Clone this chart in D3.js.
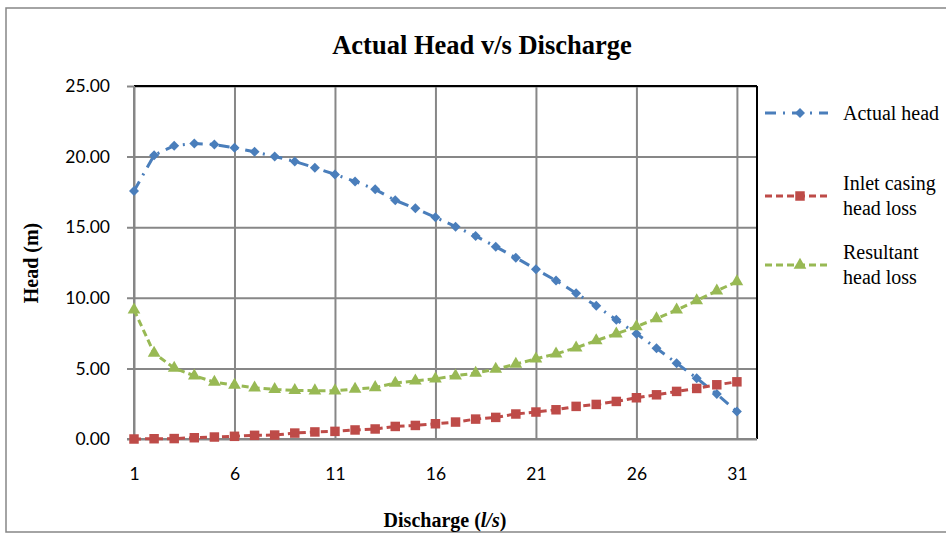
<!DOCTYPE html>
<html><head><meta charset="utf-8">
<script src="https://cdn.jsdelivr.net/npm/d3@7"></script>
<style>body{margin:0;background:#fff}svg{display:block}</style>
</head><body>
<svg id="c" width="946" height="534"></svg>
<script>
const discharge = d3.range(1, 32); // 1..31 categories
const xTickLabels = [1, 6, 11, 16, 21, 26, 31];
const yTickLabels = [0, 5, 10, 15, 20, 25];
const actualHead = [17.56,20.10,20.77,20.93,20.86,20.62,20.34,20.01,19.66,19.21,18.74,18.24,17.68,16.90,16.34,15.70,15.04,14.38,13.62,12.84,12.02,11.22,10.32,9.43,8.44,7.45,6.43,5.37,4.31,3.18,1.95];
const inletLoss = [0.00,0.02,0.03,0.09,0.14,0.19,0.26,0.28,0.42,0.50,0.54,0.64,0.71,0.89,0.96,1.08,1.20,1.41,1.53,1.77,1.91,2.07,2.31,2.45,2.66,2.92,3.13,3.37,3.58,3.84,4.05];
const resultantLoss = [9.15,6.08,5.02,4.48,4.03,3.82,3.63,3.51,3.44,3.42,3.42,3.54,3.65,3.96,4.12,4.26,4.48,4.67,4.95,5.30,5.68,6.03,6.46,6.97,7.45,7.96,8.53,9.14,9.80,10.49,11.15];
const seriesNames = ["Actual head", "Inlet casing head loss", "Resultant head loss"];

const svg = d3.select("#c");
const L = 134, R = 757, T = 86, B = 439;
const x = d3.scaleLinear().domain([1, 32]).range([L, R]);
const y = d3.scaleLinear().domain([0, 25]).range([B, T]);

// outer frame
svg.append("rect").attr("x", 6).attr("y", 8).attr("width", 950).attr("height", 524)
  .attr("fill", "#fff").attr("stroke", "#868686").attr("stroke-width", 1.5);

// title
svg.append("text").attr("x", 482).attr("y", 54).attr("text-anchor", "middle")
  .attr("font-family", "Liberation Serif").attr("font-weight", "bold").attr("font-size", 26.5)
  .text("Actual Head v/s Discharge");

// y axis with gridlines
const gy = svg.append("g").attr("transform", `translate(${L - 7},0)`)
  .call(d3.axisLeft(y).tickValues(yTickLabels).tickSize(-(R - L + 7)).tickPadding(17)
    .tickFormat(d3.format(".2f")));
gy.select(".domain").remove();
gy.selectAll(".tick line").attr("stroke", "#878787").attr("stroke-width", 2);
gy.selectAll(".tick text").attr("font-family", "Lato").attr("font-size", 17.5).attr("fill", "#000");

// x axis with gridlines
const gx = svg.append("g").attr("transform", `translate(0,${B})`)
  .call(d3.axisBottom(x).tickValues(xTickLabels).tickSize(-(B - T)).tickPadding(29)
    .tickFormat(d3.format("d")));
gx.select(".domain").remove();
gx.selectAll(".tick line").attr("stroke", "#878787").attr("stroke-width", 2);
gx.selectAll(".tick text").attr("font-family", "Lato").attr("font-size", 17.5).attr("fill", "#000");

// plot borders
svg.append("line").attr("x1", L).attr("x2", R).attr("y1", T).attr("y2", T).attr("stroke", "#000").attr("stroke-width", 2);
svg.append("line").attr("x1", R).attr("x2", R).attr("y1", T).attr("y2", B).attr("stroke", "#000").attr("stroke-width", 2);
svg.append("line").attr("x1", L).attr("x2", L).attr("y1", T).attr("y2", B).attr("stroke", "#868686").attr("stroke-width", 2);
svg.append("line").attr("x1", L - 7).attr("x2", R).attr("y1", B).attr("y2", B).attr("stroke", "#868686").attr("stroke-width", 2);

// axis titles
svg.append("text").attr("transform", "translate(38,263) rotate(-90)").attr("text-anchor", "middle")
  .attr("font-family", "Liberation Serif").attr("font-weight", "bold").attr("font-size", 20)
  .text("Head (m)");
const xt = svg.append("text").attr("x", 445).attr("y", 527).attr("text-anchor", "middle")
  .attr("font-family", "Liberation Serif").attr("font-weight", "bold").attr("font-size", 20);
xt.append("tspan").text("Discharge (");
xt.append("tspan").attr("font-style", "italic").text("l/s");
xt.append("tspan").text(")");

const styles = [
  {data: actualHead, color: "#4A7EBB", dash: "11,7,2,7", sym: d3.symbolSquare, size: 50, rot: 45},
  {data: inletLoss, color: "#BE4B48", dash: "7,4", sym: d3.symbolSquare, size: 90, rot: 0},
  {data: resultantLoss, color: "#98B954", dash: "7,4", sym: d3.symbolTriangle, size: 70, rot: 0}
];
const line = d3.line().x((d, i) => x(discharge[i])).y(d => y(d));
styles.forEach(s => {
  svg.append("path").datum(s.data).attr("d", line).attr("fill", "none")
    .attr("stroke", s.color).attr("stroke-width", 3).attr("stroke-dasharray", s.dash);
  svg.append("g").selectAll("path").data(s.data).join("path")
    .attr("transform", (d, i) => `translate(${x(discharge[i])},${y(d)}) rotate(${s.rot})`)
    .attr("d", d3.symbol().type(s.sym).size(s.size)).attr("fill", s.color);
});

// legend
const legY = [113, 196, 265];
const legLines = [["Actual head"], ["Inlet casing", "head loss"], ["Resultant", "head loss"]];
styles.forEach((s, k) => {
  const ly = legY[k];
  const g = svg.append("g");
  g.append("line").attr("x1", 765).attr("x2", 828).attr("y1", ly).attr("y2", ly)
    .attr("stroke", s.color).attr("stroke-width", 3).attr("stroke-dasharray", s.dash);
  g.append("path").attr("transform", `translate(800,${ly}) rotate(${s.rot})`)
    .attr("d", d3.symbol().type(s.sym).size(s.size)).attr("fill", s.color);
  const lines = legLines[k];
  const t = g.append("text").attr("font-family", "Liberation Serif").attr("font-size", 20).attr("fill", "#000");
  lines.forEach((ln, j) => {
    t.append("tspan").attr("x", 843).attr("y", ly + 7 + (j - (lines.length - 1) / 2) * 24.5 + (lines.length > 1 ? -0.5 : 0)).text(ln);
  });
});
</script>
</body></html>
